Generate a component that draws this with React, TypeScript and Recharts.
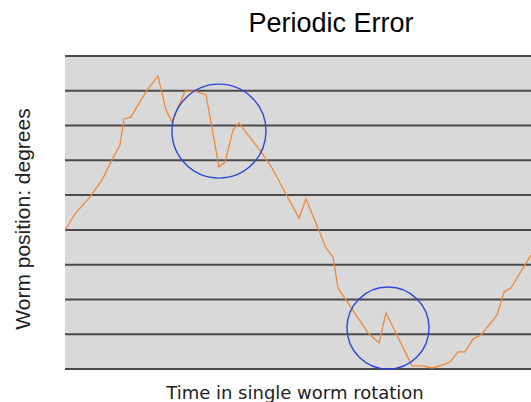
import { LineChart, Line, XAxis, YAxis, CartesianGrid, ReferenceDot } from "recharts";

// time across one worm rotation (arbitrary units) and worm position
const times = [
    0, 10, 25, 37, 48, 55, 59, 66, 82, 93, 101, 107, 120, 130, 141, 154, 160, 168, 174,
    197, 207, 234, 241, 253, 261, 268, 273, 303, 314, 321, 347, 358, 367, 378, 385,
    393, 400, 408, 416, 432, 439, 446, 466,
];
const positions = [
    3.99, 4.46, 4.95, 5.43, 6.07, 6.44, 7.19, 7.25, 8.02, 8.42, 7.45, 7.1, 7.99, 7.99, 7.88,
    5.81, 5.95, 6.87, 7.07, 6.21, 5.78, 4.34, 4.89, 4.05, 3.48, 3.22, 2.33, 1.04, 0.75, 1.61,
    0.09, 0.09, 0.03, 0.12, 0.2, 0.49, 0.49, 0.86, 0.98, 1.55, 2.21, 2.33, 3.28,
];
const yTicks = [0, 1, 2, 3, 4, 5, 6, 7, 8, 9];

// highlighted spots (centre in data units, radius in px)
const highlights = [
    { t: 154, v: 6.84, r: 47 },
    { t: 323, v: 1.18, r: 41 },
];

const data = times.map((t, i) => ({ t, v: positions[i] }));

export default function App() {
    return (
        <div style={{ position: "absolute", left: 0, top: 0, width: 531, height: 402, background: "#fff" }}>
            <LineChart width={531} height={402} data={data} margin={{ top: 56, right: 0, bottom: 33, left: 65 }}>
                <CartesianGrid
                    vertical={false}
                    horizontal={true}
                    fill="#d9d9d9"
                    fillOpacity={1}
                    stroke="#4a4a4a"
                    strokeWidth={2}
                    horizontalValues={yTicks}
                />
                <XAxis
                    dataKey="t"
                    type="number"
                    domain={[0, 466]}
                    height={0}
                    tick={false}
                    tickLine={false}
                    axisLine={{ stroke: "#222", strokeWidth: 2 }}
                />
                <YAxis
                    type="number"
                    domain={[0, 9]}
                    ticks={yTicks}
                    width={0}
                    tickSize={4}
                    tickLine={{ stroke: "#999" }}
                    tickFormatter={() => ""}
                    axisLine={{ stroke: "#222", strokeWidth: 2 }}
                />
                <Line
                    dataKey="v"
                    type="linear"
                    stroke="#f0883a"
                    strokeWidth={1.3}
                    dot={false}
                    isAnimationActive={false}
                />
                {highlights.map((h, i) => (
                    <ReferenceDot
                        key={i}
                        x={h.t}
                        y={h.v}
                        r={h.r}
                        fill="none"
                        stroke="#2b47d6"
                        strokeWidth={1.4}
                        ifOverflow="visible"
                    />
                ))}
                <text x={331} y={32} textAnchor="middle" fontFamily="Liberation Sans, Arial" fontSize={27} fill="#000">
                    Periodic Error
                </text>
                <text
                    x={295}
                    y={399}
                    textAnchor="middle"
                    fontFamily="DejaVu Sans"
                    fontSize={18}
                    fill="#222"
                >
                    Time in single worm rotation
                </text>
                <text
                    x={30}
                    y={219}
                    textAnchor="middle"
                    transform="rotate(-90 30 219)"
                    fontFamily="Liberation Sans, Arial"
                    fontSize={21}
                    fill="#222"
                >
                    Worm position: degrees
                </text>
            </LineChart>
        </div>
    );
}
